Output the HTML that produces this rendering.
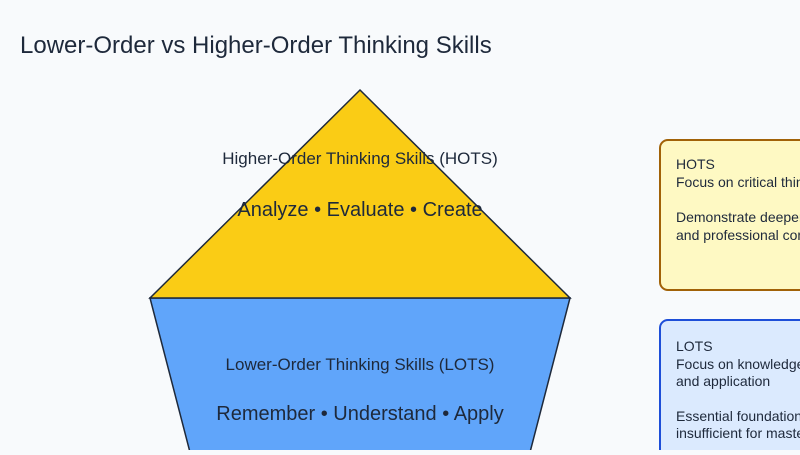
<!DOCTYPE html>
<html><head><style>
body{margin:0;width:800px;height:450px;overflow:hidden;background:#f8fafc;font-family:"Liberation Sans",Arial,sans-serif}
</style></head><body>
<svg width="800" height="450" xmlns="http://www.w3.org/2000/svg">
<rect width="800" height="450" fill="#f8fafc"/>
<text x="20" y="53" font-size="24" fill="#1e293b">Lower-Order vs Higher-Order Thinking Skills</text>
<polygon points="150,298 570,298 528,460 192,460" fill="#60a5fa" stroke="#1e293b" stroke-width="1.5"/>
<polygon points="360,90 570,298 150,298" fill="#facc15" stroke="#1e293b" stroke-width="1.5"/>
<text x="360" y="164" font-size="17" fill="#1e293b" text-anchor="middle">Higher-Order Thinking Skills (HOTS)</text>
<text x="360" y="216" font-size="20" fill="#1e293b" text-anchor="middle">Analyze • Evaluate • Create</text>
<text x="360" y="370" font-size="17" fill="#1e293b" text-anchor="middle">Lower-Order Thinking Skills (LOTS)</text>
<text x="360" y="420" font-size="20" fill="#1e293b" text-anchor="middle">Remember • Understand • Apply</text>
<rect x="660" y="140" width="160" height="150" rx="8" fill="#fef9c3" stroke="#a16207" stroke-width="2"/>
<g font-size="14" fill="#1e293b">
<text x="676" y="169">HOTS</text>
<text x="676" y="187">Focus on critical thinking</text>
<text x="676" y="222">Demonstrate deeper understanding</text>
<text x="676" y="240">and professional competence</text>
</g>
<rect x="660" y="320" width="160" height="150" rx="8" fill="#dbeafe" stroke="#1d4ed8" stroke-width="2"/>
<g font-size="14" fill="#1e293b">
<text x="676" y="351">LOTS</text>
<text x="676" y="369">Focus on knowledge recall</text>
<text x="676" y="386">and application</text>
<text x="676" y="421">Essential foundation but</text>
<text x="676" y="438">insufficient for mastery</text>
</g>
</svg>
</body></html>
